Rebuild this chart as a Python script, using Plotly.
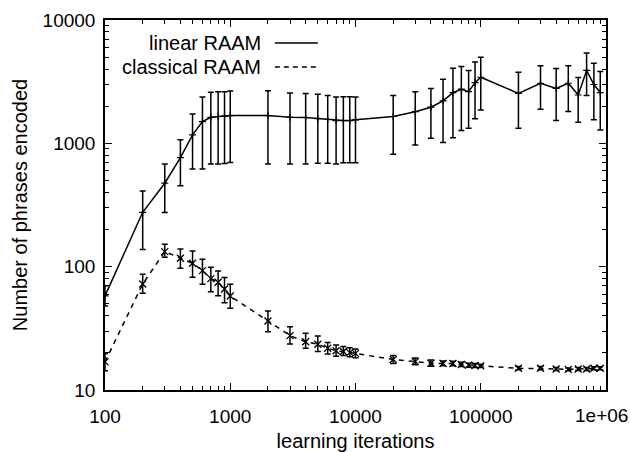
import plotly.graph_objects as go

iterations = [100, 200, 300, 400, 500, 600, 700, 800, 900,
              1000, 2000, 3000, 4000, 5000, 6000, 7000, 8000, 9000,
              10000, 20000, 30000, 40000, 50000, 60000, 70000, 80000, 90000,
              100000, 200000, 300000, 400000, 500000, 600000, 700000, 800000, 900000]

linear_mean = [58, 276, 475, 766, 1170, 1500, 1625, 1650, 1660,
               1680, 1680, 1625, 1620, 1585, 1560, 1530, 1530, 1530,
               1550, 1650, 1806, 1963, 2210, 2580, 2747, 2625, 3104,
               3434, 2544, 3070, 2790, 3070, 2466, 3900, 3000, 2580]
linear_high = [70, 411, 680, 1070, 1730, 2370, 2595, 2620, 2620,
               2660, 2670, 2565, 2540, 2500, 2440, 2380, 2390, 2390,
               2380, 2440, 2625, 2790, 3310, 4065, 4190, 3890, 4570,
               4990, 3770, 4265, 4035, 4265, 3420, 5400, 4460, 3820]
linear_low = [48, 138, 275, 454, 620, 620, 681, 680, 685,
              700, 680, 680, 680, 690, 690, 680, 695, 695,
              697, 815, 970, 1100, 1015, 1112, 1268, 1326, 1585,
              1867, 1326, 1890, 1528, 1810, 1480, 2440, 1550, 1285]

classical_mean = [16.9, 72.4, 132.5, 117, 106.5, 92.9, 80, 74.7, 65.9,
                  57.8, 36.3, 27.6, 24.6, 23.5, 21.8, 20.8, 20.5, 20.1,
                  19.8, 17.7, 17.0, 16.5, 16.4, 16.4, 16.1, 15.9, 15.8,
                  15.7, 15.0, 15.0, 14.8, 14.7, 14.8, 14.8, 15.0, 15.0]
classical_high = [19.8, 86.7, 152, 139, 134, 115, 99, 92.3, 81.5,
                  72, 43.7, 32.6, 28.8, 27.4, 24.3, 23.2, 22.5, 22,
                  21.5, 19, 18.2, 17.5, 17.2, 17.1, 16.8, 16.5, 16.4,
                  16.2, 15.5, 15.5, 15.2, 15.1, 15.2, 15.2, 15.4, 15.4]
classical_low = [14.3, 60.8, 119, 97, 82, 72, 62.7, 58.2, 51,
                 46, 29.7, 23.6, 21.8, 20.5, 19.6, 18.8, 19.0, 18.6,
                 18.3, 16.4, 16.0, 15.6, 15.7, 15.7, 15.5, 15.3, 15.2,
                 15.2, 14.6, 14.6, 14.4, 14.3, 14.4, 14.4, 14.6, 14.6]

x_major = [100, 1000, 10000, 100000, 1000000]
x_labels = ["100", "1000", "10000", "100000", "1e+06"]
y_major = [10, 100, 1000, 10000]
y_labels = ["10", "100", "1000", "10000"]

x_minor = [m * d for d in [100, 1000, 10000, 100000] for m in range(2, 10)]
y_minor = [m * d for d in [10, 100, 1000] for m in range(2, 10)]

FONT = "Liberation Sans, Arial, Helvetica, sans-serif"

fig = go.Figure()

fig.add_trace(go.Scatter(
    x=iterations, y=linear_mean, mode="lines+markers", name="linear RAAM",
    line=dict(color="black", width=1.5),
    marker=dict(symbol="cross-thin", size=5, color="black",
                line=dict(color="black", width=1.2)),
    error_y=dict(type="data", symmetric=False,
                 array=[h - m for h, m in zip(linear_high, linear_mean)],
                 arrayminus=[m - l for m, l in zip(linear_mean, linear_low)],
                 color="black", thickness=1.5, width=3),
    showlegend=False,
))

fig.add_trace(go.Scatter(
    x=iterations, y=classical_mean, mode="lines+markers", name="classical RAAM",
    line=dict(color="black", width=1.5, dash="5px,5px"),
    marker=dict(symbol="x-thin", size=7, color="black",
                line=dict(color="black", width=1.3)),
    error_y=dict(type="data", symmetric=False,
                 array=[h - m for h, m in zip(classical_high, classical_mean)],
                 arrayminus=[m - l for m, l in zip(classical_mean, classical_low)],
                 color="black", thickness=1.5, width=3),
    showlegend=False,
))

axis_common = dict(
    type="log", showgrid=False, zeroline=False,
    showline=True, linecolor="black", linewidth=1.5, mirror="ticks",
    ticks="inside", ticklen=7, tickwidth=1.2, tickcolor="black",
    tickfont=dict(family=FONT, size=19, color="black"),
)

# the last x label sits at the right edge of the window; it is drawn as an
# annotation nudged left (as in the original) so that it is not clipped
x_ticktext = x_labels[:-1] + [""]

fig.update_xaxes(
    **axis_common,
    range=[2, 6],
    tickmode="array", tickvals=x_major, ticktext=x_ticktext,
    minor=dict(tickmode="array", tickvals=x_minor, ticks="inside",
               ticklen=4, tickwidth=1, tickcolor="black"),
    title=dict(text="learning iterations",
               font=dict(family=FONT, size=20, color="black"), standoff=12),
    ticklabelstandoff=8,
)
fig.update_yaxes(
    **axis_common,
    range=[1, 4],
    tickmode="array", tickvals=y_major, ticktext=y_labels,
    minor=dict(tickmode="array", tickvals=y_minor, ticks="inside",
               ticklen=4, tickwidth=1, tickcolor="black"),
    title=dict(text="Number of phrases encoded",
               font=dict(family=FONT, size=20, color="black"), standoff=10),
    ticklabelstandoff=4,
)

fig.add_annotation(xref="x", yref="paper", x=6, y=-0.068,
                   text=x_labels[-1], showarrow=False,
                   xanchor="center", yanchor="middle", xshift=-5,
                   font=dict(family=FONT, size=19, color="black"))

# gnuplot-style legend (text right-aligned, sample to the right)
legend_items = [("linear RAAM", "solid", 0.938), ("classical RAAM", "5px,4px", 0.873)]
for label, dash, yp in legend_items:
    fig.add_annotation(xref="paper", yref="paper", x=0.315, y=yp,
                       text=label, showarrow=False, xanchor="right", yanchor="middle",
                       font=dict(family=FONT, size=20, color="black"))
    fig.add_shape(type="line", xref="paper", yref="paper",
                  x0=0.339, x1=0.425, y0=yp, y1=yp,
                  line=dict(color="black", width=1.5, dash=dash))

fig.update_layout(
    width=631, height=452,
    margin=dict(l=105, r=25, t=20, b=62, autoexpand=False),
    paper_bgcolor="white", plot_bgcolor="white",
    font=dict(family=FONT, size=20, color="black"),
)

# remove the default page margin so the figure fills the 631x452 window exactly
fig.write_html(
    "out.html",
    config={"displayModeBar": False},
    post_script="document.body.style.margin='0';document.body.style.overflow='hidden';",
)
